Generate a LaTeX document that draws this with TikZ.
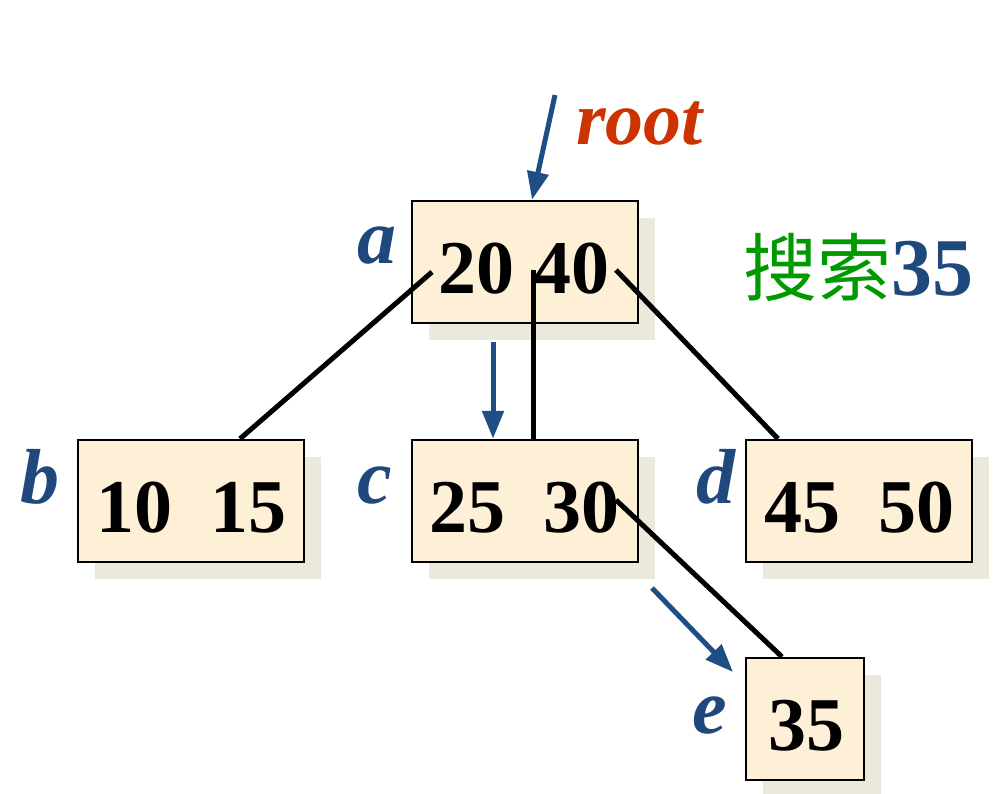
\documentclass[tikz,border=0pt]{standalone}
\usepackage{fontspec}
\setmainfont{Liberation Serif}
\newfontfamily\cjk{Noto Sans CJK SC}
\usetikzlibrary{arrows.meta,shadows,calc}
\definecolor{boxc}{HTML}{FDF0D6}
\definecolor{shadowc}{HTML}{EBE8DC}
\definecolor{lblc}{HTML}{1F497D}
\definecolor{ptrc}{HTML}{1F4E85}
\definecolor{rootc}{HTML}{CC3300}
\definecolor{greenc}{HTML}{009900}
\begin{document}
\begin{tikzpicture}[x=1pt,y=-1pt,
  box/.style={rectangle,draw=black,line width=2.4pt,fill=boxc,inner sep=0pt,
    minimum height=122pt,
    drop shadow={shadow xshift=17pt,shadow yshift=-17pt,fill=shadowc,opacity=1}},
  keys/.style={font=\fontsize{76}{80}\selectfont\bfseries,anchor=base,inner sep=0pt},
  lbl/.style={font=\fontsize{78}{80}\selectfont\bfseries\itshape,text=lblc,anchor=base,inner sep=0pt},
  edgeline/.style={line width=5pt,draw=black},
  ptr/.style={line width=5pt,draw=ptrc,fill=ptrc,-{Triangle[length=28pt,width=21pt]}}]
\useasboundingbox (0,0) rectangle (999,793);

% boxes
\node[box,minimum width=226pt] (a) at (525,262) {};
\node[box,minimum width=226pt] (b) at (191,501) {};
\node[box,minimum width=226pt] (c) at (525,501) {};
\node[box,minimum width=226pt] (d) at (859,501) {};
\node[box,minimum width=118pt] (e) at (805,719) {};

% keys
\node[keys] (ta) at (524,293) {20 40};
\node[keys] (tb) at (191,532) {10\ \ 15};
\node[keys] (tc) at (524,532) {25\ \ 30};
\node[keys] (td) at (859,532) {45\ \ 50};
\node[keys] (te) at (806,750) {35};

% labels
\node[lbl] (la) at (377,263) {a};
\node[lbl] (lb) at (40,503) {b};
\node[lbl] (lc) at (375,503) {c};
\node[lbl] (ld) at (716,503) {d};
\node[lbl] (le) at (710,733) {e};
\node[font=\fontsize{76}{80}\selectfont\bfseries\itshape,text=rootc,anchor=base west,inner sep=0pt] (root) at (576,144) {root};
\node[anchor=base west,inner sep=0pt] (title) at (743,295)
  {{\fontsize{74}{80}\selectfont\cjk\color{greenc}搜索}{\fontsize{82}{80}\selectfont\bfseries\color{lblc}35}};

% edge coordinates
\coordinate (ab1) at (432,272);
\coordinate (ab2) at ($(b.north)+(49,0)$);
\coordinate (ac1) at (533,270);
\coordinate (ac2) at ($(c.north)+(8,0)$);
\coordinate (ad1) at (616,270);
\coordinate (ad2) at ($(d.north)+(-81,0)$);
\coordinate (ce1) at (616,500);
\coordinate (ce2) at ($(e.north)+(-23,0)$);

\draw[edgeline] (ab1) -- (ab2);
\draw[edgeline] (ac1) -- (ac2);
\draw[edgeline] (ad1) -- (ad2);
\draw[edgeline] (ce1) -- (ce2);

% search pointers
\coordinate (p1s) at (555,95);
\coordinate (p1e) at ($(a.north)+(7,0)$);
\coordinate (p2s) at (493,342);
\coordinate (p2e) at ($(c.north)+(-32,0)$);
\coordinate (p3s) at (652,588);
\coordinate (p3e) at (733,672);
\draw[ptr] (p1s) -- (p1e);
\draw[ptr] (p2s) -- (p2e);
\draw[ptr] (p3s) -- (p3e);
\end{tikzpicture}
\end{document}
